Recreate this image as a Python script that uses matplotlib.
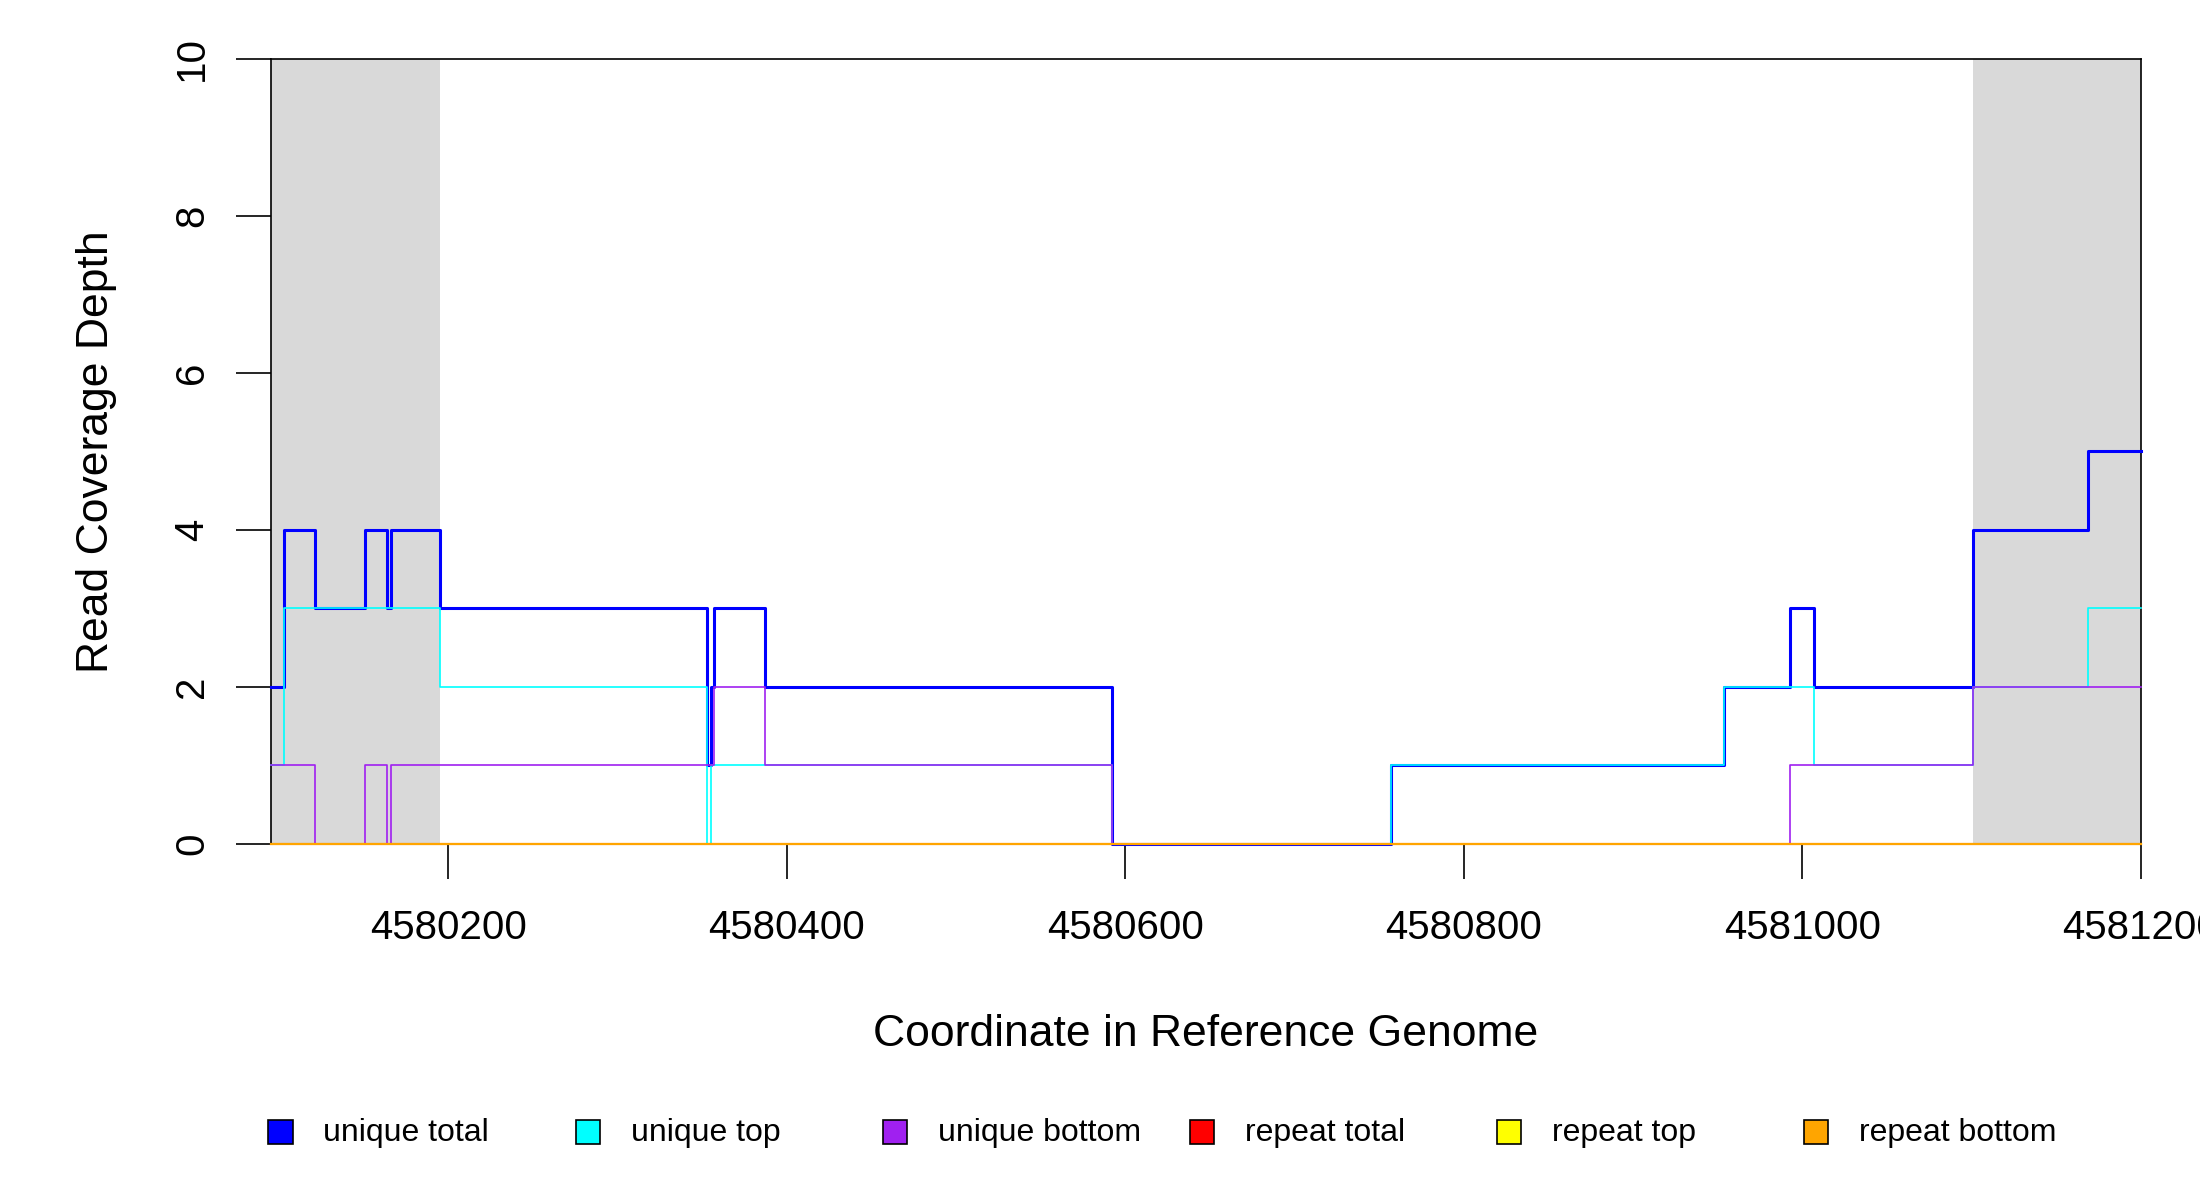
import matplotlib
matplotlib.use("Agg")
import matplotlib.pyplot as plt
from matplotlib.patches import Rectangle

plt.rcParams['font.family'] = ['Liberation Sans', 'DejaVu Sans']

edges = [4580095, 4580103, 4580121, 4580151, 4580164, 4580166, 4580195, 4580353,
         4580355, 4580357, 4580387, 4580592, 4580757, 4580954, 4580993, 4581007,
         4581101, 4581169, 4581200]
unique_top = [1, 3, 3, 3, 3, 3, 2, 0, 1, 1, 1, 0, 1, 2, 2, 1, 2, 3]
unique_bottom = [1, 1, 0, 1, 0, 1, 1, 1, 1, 2, 1, 0, 0, 0, 1, 1, 2, 2]
unique_total = [t + b for t, b in zip(unique_top, unique_bottom)]
repeat_total = [0] * len(unique_top)
repeat_top = [0] * len(unique_top)
repeat_bottom = [0] * len(unique_top)
shaded = [(4580095, 4580195), (4581101, 4581200)]
xticks = [4580200, 4580400, 4580600, 4580800, 4581000, 4581200]
yticks = [0, 2, 4, 6, 8, 10]
names = ["unique total", "unique top", "unique bottom", "repeat total", "repeat top", "repeat bottom"]
colors = ["#0000FF", "#00FFFF", "#A020F0", "#FF0000", "#FFFF00", "#FFA500"]

fig = plt.figure(figsize=(22, 12), dpi=100)
ax = fig.add_axes([0.123, 0.297, 0.85, 0.654])
for a, b in shaded:
    ax.axvspan(a, b, color="#D9D9D9", lw=0)

def st(vals, c, lw, z):
    y = list(vals) + [vals[-1]]
    ax.step(edges, y, where="post", color=c, lw=lw, clip_on=False, zorder=z)

st(unique_total, colors[0], 2.2, 3)
st(unique_top, colors[1], 1.2, 4)
st(unique_bottom, colors[2], 1.2, 5)
st(repeat_total, colors[3], 1.5, 6)
st(repeat_top, colors[4], 1.5, 7)
st(repeat_bottom, colors[5], 1.5, 8)

ax.set_xlim(4580095, 4581200)
ax.set_ylim(0, 10)
ax.set_xticks(xticks)
ax.set_xticklabels([str(v) for v in xticks])
ax.set_yticks(yticks)
ax.set_yticklabels([str(v) for v in yticks], rotation=90, va="center")
ax.tick_params(length=25, width=1.2, labelsize=29)
ax.tick_params(axis="x", pad=22)
ax.tick_params(axis="y", pad=18)
for s in ax.spines.values():
    s.set_linewidth(1.2)
ax.set_xlabel("Coordinate in Reference Genome", fontsize=32, labelpad=48)
ax.set_ylabel("Read Coverage Depth", fontsize=32, labelpad=40)
for i, (n, c) in enumerate(zip(names, colors)):
    x0 = 0.122 + i * 0.1396
    fig.patches.append(Rectangle((x0, 0.047), 0.011, 0.02, transform=fig.transFigure,
                                 facecolor=c, edgecolor="black", lw=1.2))
    fig.text(x0 + 0.025, 0.056, n, fontsize=23, va="center")
fig.savefig("out.png", dpi=100)
